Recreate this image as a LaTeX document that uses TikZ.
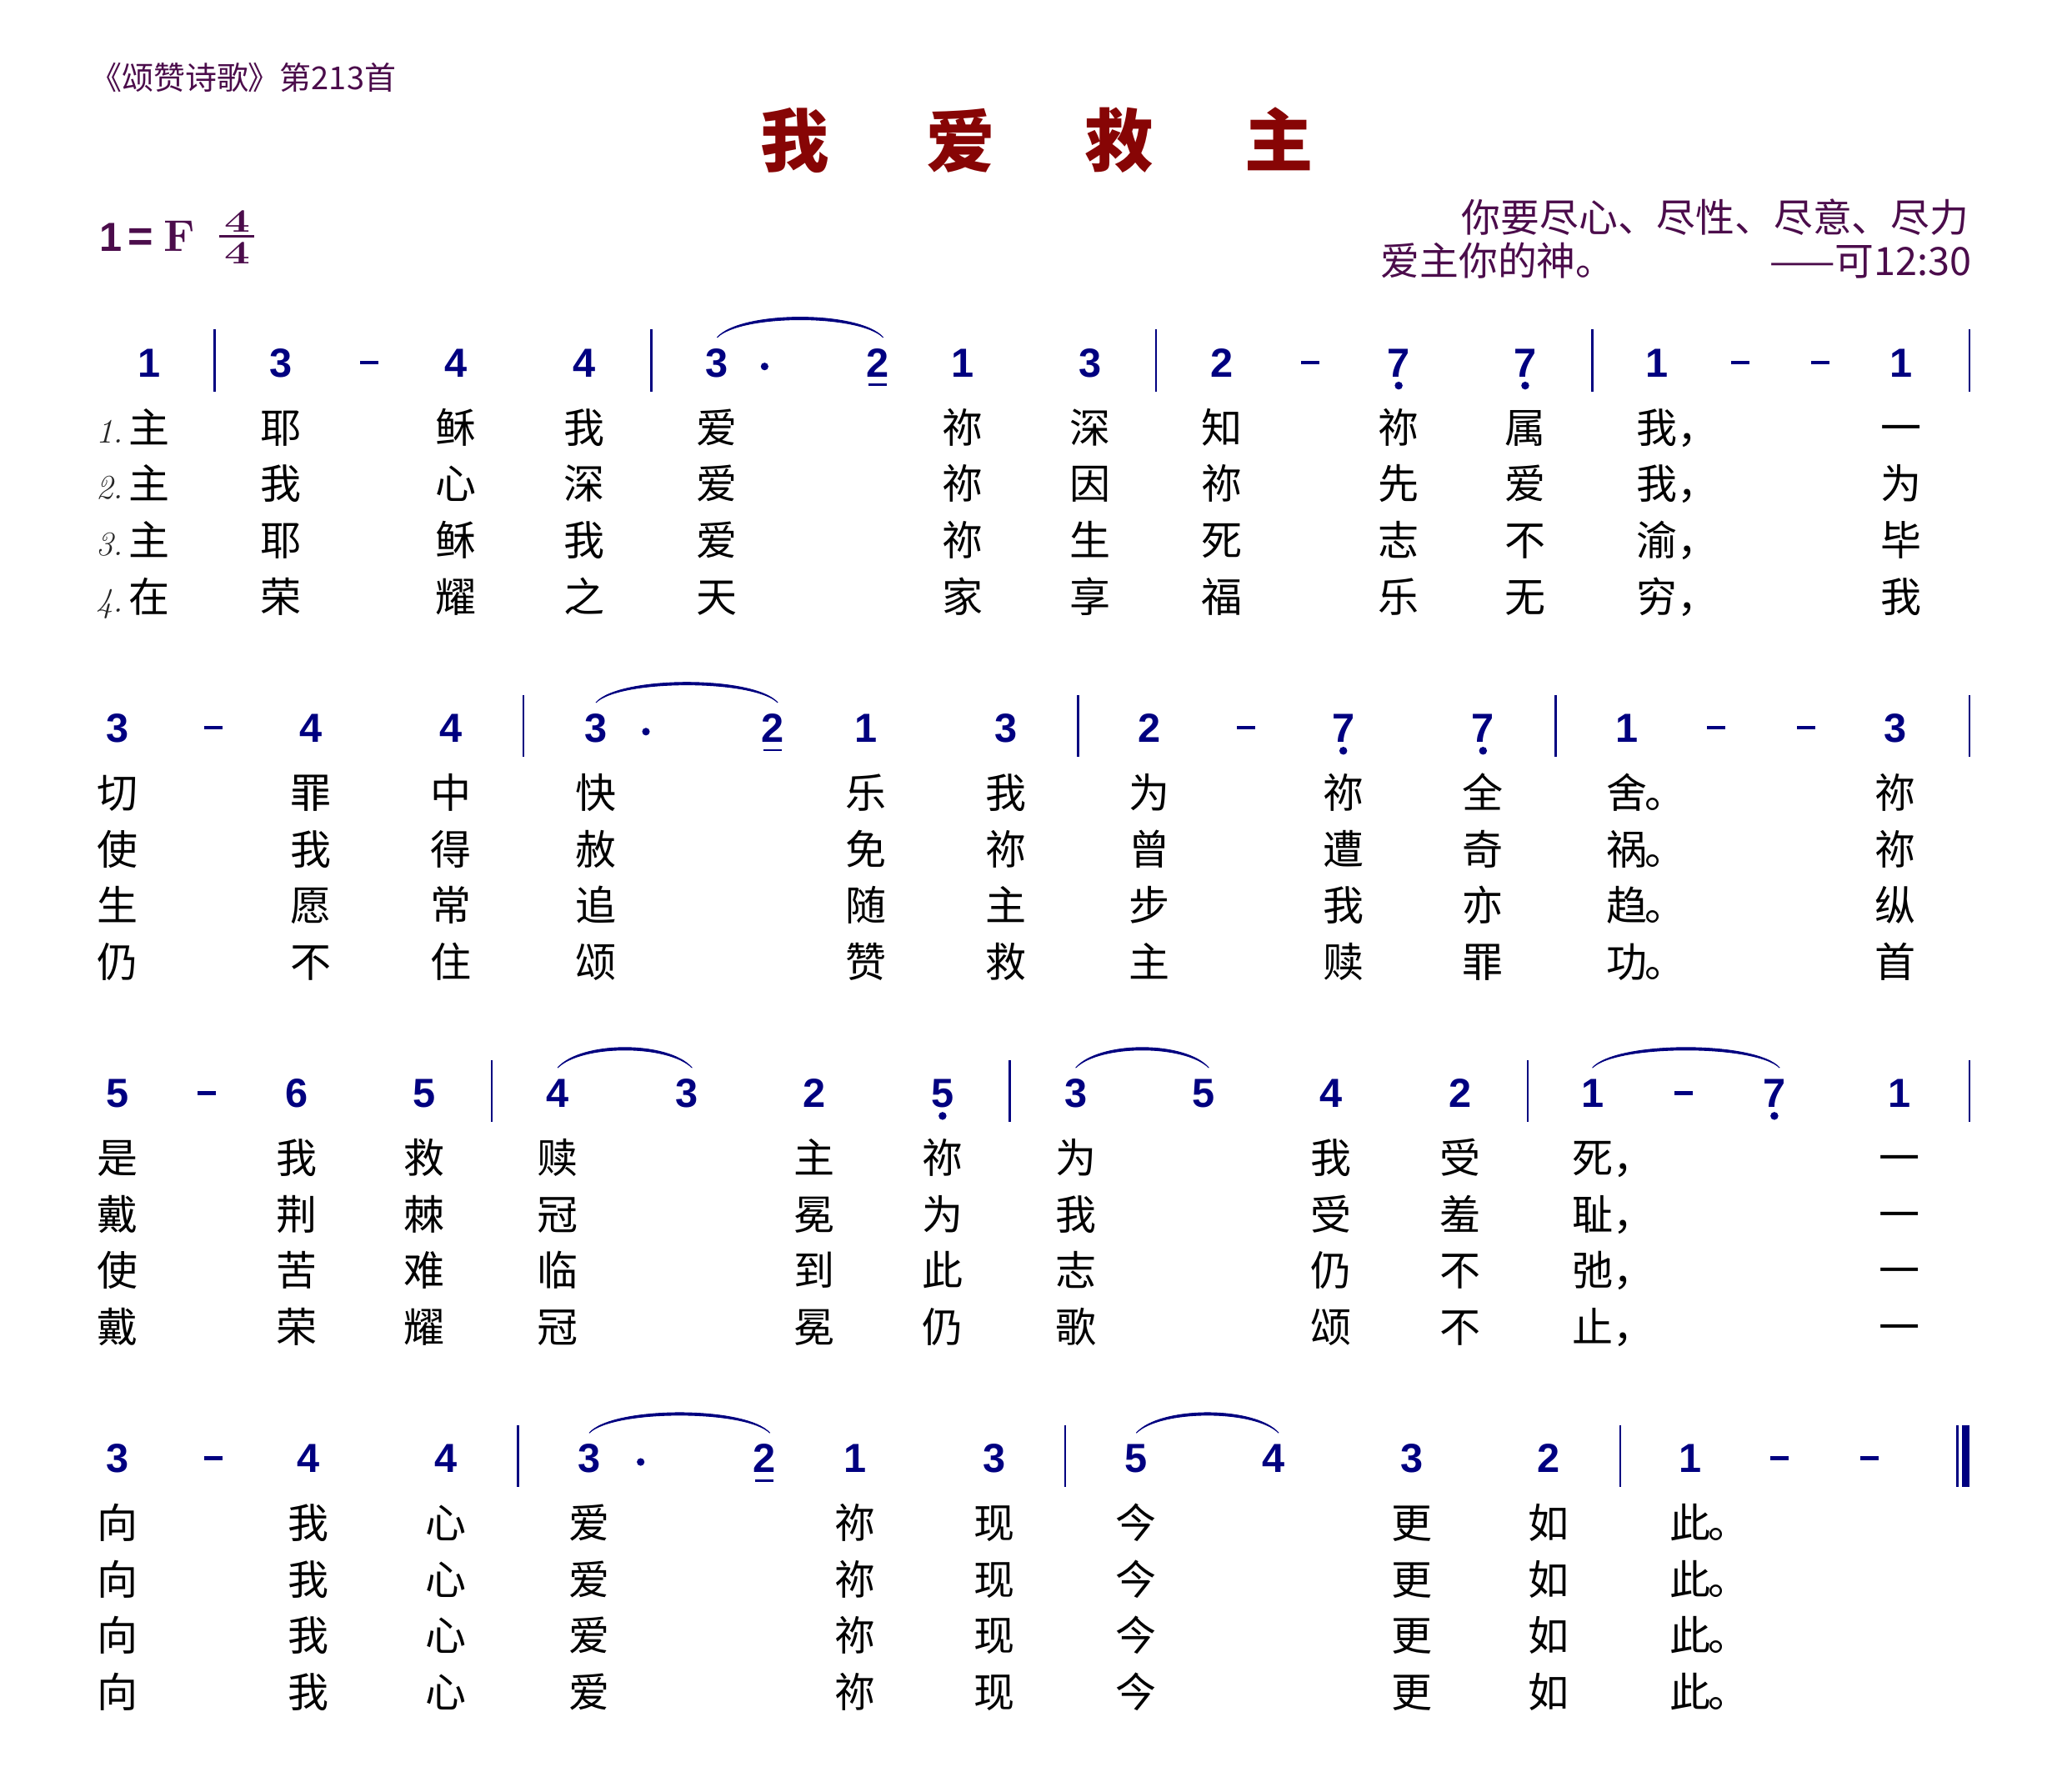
\documentclass[tikz,border=0pt]{standalone}
\usepackage{fontspec}
\usetikzlibrary{calc}
\newfontfamily\cjk{Noto Sans CJK SC}
\newfontfamily\notefont{Liberation Sans}
\definecolor{notecol}{RGB}{0,0,128}
\definecolor{hdrcol}{RGB}{75,12,75}
\definecolor{titlecol}{RGB}{135,5,5}
\newcommand\lcomma{\rlap{，}}
\newcommand\lstop{\rlap{\kern-1pt 。}}
\tikzset{
  note/.style={anchor=base, inner sep=0pt, font=\notefont\bfseries\fontsize{15.4}{18}\selectfont, text=notecol},
  lyr/.style={anchor=base, inner sep=0pt, font=\cjk\fontsize{15.5}{18}\selectfont, text=black},
  vnum/.style={anchor=base east, inner sep=0pt, font=\itshape\fontsize{13}{15}\selectfont, text=black!85},
  barline/.style={draw=notecol, line width=0.85pt},
  dashnote/.style={inner sep=0pt, fill=notecol, minimum width=7pt, minimum height=1.5pt},
  augdot/.style={circle, inner sep=0pt, fill=notecol, minimum size=2.9pt},
  lowdot/.style={circle, inner sep=0pt, fill=notecol, minimum size=3pt},
  uline/.style={draw=notecol, line width=0.9pt},
  titlechar/.style={anchor=base, inner sep=0pt, font=\cjk\bfseries\fontsize{26}{30}\selectfont, text=titlecol},
  epi/.style={inner sep=0pt, font=\cjk\fontsize{14.8}{18}\selectfont, text=hdrcol},
  keytxt/.style={anchor=base, inner sep=0pt, text=hdrcol},
}
\newcommand\slur[2]{\filldraw[notecol, line width=0.3pt] ($(#1.base)+(0,-30)$) .. controls +(18,-20.5) and +(-18,-20.5) .. ($(#2.base)+(4,-30)$) .. controls +(-18,-18) and +(18,-18) .. ($(#1.base)+(0,-30)$) -- cycle;}
\newcommand\lyrline[3]{\foreach \x/\c in {#3} {\node[lyr] (#2x\x) at (\x,#1) {\c};}}
\begin{document}
\begin{tikzpicture}[x=0.5pt, y=-0.5pt]
\useasboundingbox (0,0) rectangle (1568,1359);
% header
\node[anchor=base west, inner sep=0pt, font=\cjk\fontsize{12}{14}\selectfont, text=hdrcol] (hdr) at (68,68) {《颂赞诗歌》第213首};
% title
\node[titlechar] (t1) at (603,126) {我};
\node[titlechar] (t2) at (729,126) {爱};
\node[titlechar] (t3) at (849,126) {救};
\node[titlechar] (t4) at (970,126) {主};
% key signature
\node[keytxt, font=\notefont\bfseries\fontsize{15.4}{18}\selectfont] (k1) at (84,190.7) {1};
\node[keytxt, font=\notefont\bfseries\fontsize{16.5}{18}\selectfont] (keq) at (106.5,190.7) {=};
\node[keytxt, font=\bfseries\fontsize{16.8}{20}\selectfont] (kf) at (136,190.7) {F};
\node[keytxt, font=\bfseries\fontsize{12.4}{14}\selectfont] (ktop) at (180,176) {\scalebox{1.4}[1]{4}};
\node[keytxt, font=\bfseries\fontsize{12.4}{14}\selectfont] (kbot) at (180,200) {\scalebox{1.4}[1]{4}};
\draw[hdrcol, line width=0.9pt] (166,179) -- (193,179);
% epigraph
\node[epi, anchor=base east] (ep1) at (1494,176) {你要尽心、尽性、尽意、尽力};
\node[epi, anchor=base west] (ep2) at (1047,209) {爱主你的神。};
\node[epi, anchor=base east] (ep3) at (1496,209) {——可12:30};

% ===== system 1 =====
\def\Y{275}
\foreach \x/\d in {113/1,213/3,346/4,443/4,544/3,666/2,730/1,827/3,927/2,1061/7,1157/7,1257/1,1442/1}
  {\node[note] (a\x) at (\x,{\Y+11}) {\d};}
\foreach \x in {280,994,1320,1381} {\node[dashnote] (ad\x) at (\x,\Y) {};}
\foreach \x in {666} {\draw[uline] ($(a\x.base)+(-7,6)$) -- ($(a\x.base)+(7,6)$);}
\foreach \x in {1061,1157} {\node[lowdot] (al\x) at ($(a\x.base)+(0,6.5)$) {};}
\node[augdot] (aa580) at (580,{\Y+3}) {};
\foreach \x in {163,494,877,1208,1494} {\draw[barline] (\x,{\Y-25}) -- (\x,{\Y+22});}
\slur{a544}{a666}
\node[vnum] (vn1) at (94,336) {1.};
\node[vnum] (vn2) at (94,378.7) {2.};
\node[vnum] (vn3) at (94,421.4) {3.};
\node[vnum] (vn4) at (94,464.1) {4.};
\lyrline{336}{s1v1}{113/主,213/耶,346/稣,443/我,544/爱,730/祢,827/深,927/知,1061/祢,1157/属,1257/我\lcomma,1442/一}
\lyrline{378.7}{s1v2}{113/主,213/我,346/心,443/深,544/爱,730/祢,827/因,927/祢,1061/先,1157/爱,1257/我\lcomma,1442/为}
\lyrline{421.4}{s1v3}{113/主,213/耶,346/稣,443/我,544/爱,730/祢,827/生,927/死,1061/志,1157/不,1257/渝\lcomma,1442/毕}
\lyrline{464.1}{s1v4}{113/在,213/荣,346/耀,443/之,544/天,730/家,827/享,927/福,1061/乐,1157/无,1257/穷\lcomma,1442/我}

% ===== system 2 =====
\def\Y{552}
\foreach \x/\d in {89/3,236/4,342/4,452/3,586/2,657/1,763/3,872/2,1019/7,1125/7,1234/1,1438/3}
  {\node[note] (b\x) at (\x,{\Y+11}) {\d};}
\foreach \x in {162,945,1302,1370} {\node[dashnote] (bd\x) at (\x,\Y) {};}
\foreach \x in {586} {\draw[uline] ($(b\x.base)+(-7,6)$) -- ($(b\x.base)+(7,6)$);}
\foreach \x in {1019,1125} {\node[lowdot] (bl\x) at ($(b\x.base)+(0,6.5)$) {};}
\node[augdot] (ba490) at (490,{\Y+3}) {};
\foreach \x in {397,818,1180,1494} {\draw[barline] (\x,{\Y-25}) -- (\x,{\Y+22});}
\slur{b452}{b586}
\lyrline{613}{s2v1}{89/切,236/罪,342/中,452/快,657/乐,763/我,872/为,1019/祢,1125/全,1234/舍\lstop,1438/祢}
\lyrline{655.7}{s2v2}{89/使,236/我,342/得,452/赦,657/免,763/祢,872/曾,1019/遭,1125/奇,1234/祸\lstop,1438/祢}
\lyrline{698.4}{s2v3}{89/生,236/愿,342/常,452/追,657/随,763/主,872/步,1019/我,1125/亦,1234/趋\lstop,1438/纵}
\lyrline{741.1}{s2v4}{89/仍,236/不,342/住,452/颂,657/赞,763/救,872/主,1019/赎,1125/罪,1234/功\lstop,1438/首}

% ===== system 3 =====
\def\Y{829}
\foreach \x/\d in {89/5,225/6,322/5,423/4,521/3,618/2,715/5,816/3,913/5,1010/4,1108/2,1208/1,1346/7,1441/1}
  {\node[note] (c\x) at (\x,{\Y+11}) {\d};}
\foreach \x in {157,1277} {\node[dashnote] (cd\x) at (\x,\Y) {};}
\foreach \x in {715,1346} {\node[lowdot] (cl\x) at ($(c\x.base)+(0,6.5)$) {};}
\foreach \x in {373,766,1159,1494} {\draw[barline] (\x,{\Y-25}) -- (\x,{\Y+22});}
\slur{c423}{c521}
\slur{c816}{c913}
\slur{c1208}{c1346}
\lyrline{890}{s3v1}{89/是,225/我,322/救,423/赎,618/主,715/祢,816/为,1010/我,1108/受,1208/死\lcomma,1441/一}
\lyrline{932.7}{s3v2}{89/戴,225/荆,322/棘,423/冠,618/冕,715/为,816/我,1010/受,1108/羞,1208/耻\lcomma,1441/一}
\lyrline{975.4}{s3v3}{89/使,225/苦,322/难,423/临,618/到,715/此,816/志,1010/仍,1108/不,1208/弛\lcomma,1441/一}
\lyrline{1018.1}{s3v4}{89/戴,225/荣,322/耀,423/冠,618/冕,715/仍,816/歌,1010/颂,1108/不,1208/止\lcomma,1441/一}

% ===== system 4 =====
\def\Y{1106}
\foreach \x/\d in {89/3,234/4,338/4,447/3,580/2,649/1,754/3,862/5,966/4,1071/3,1175/2,1282/1}
  {\node[note] (d\x) at (\x,{\Y+11}) {\d};}
\foreach \x in {162,1350,1418} {\node[dashnote] (dd\x) at (\x,\Y) {};}
\foreach \x in {580} {\draw[uline] ($(d\x.base)+(-7,6)$) -- ($(d\x.base)+(7,6)$);}
\node[augdot] (da486) at (486,{\Y+3}) {};
\foreach \x in {393,808,1229} {\draw[barline] (\x,{\Y-25}) -- (\x,{\Y+22});}
\draw[notecol, line width=1pt] (1485,{\Y-25}) -- (1485,{\Y+22});
\draw[notecol, line width=3pt] (1491,{\Y-25}) -- (1491,{\Y+22});
\slur{d447}{d580}
\slur{d862}{d966}
\lyrline{1167}{s4v1}{89/向,234/我,338/心,447/爱,649/祢,754/现,862/今,1071/更,1175/如,1282/此\lstop}
\lyrline{1209.7}{s4v2}{89/向,234/我,338/心,447/爱,649/祢,754/现,862/今,1071/更,1175/如,1282/此\lstop}
\lyrline{1252.4}{s4v3}{89/向,234/我,338/心,447/爱,649/祢,754/现,862/今,1071/更,1175/如,1282/此\lstop}
\lyrline{1295.1}{s4v4}{89/向,234/我,338/心,447/爱,649/祢,754/现,862/今,1071/更,1175/如,1282/此\lstop}
\end{tikzpicture}
\end{document}
